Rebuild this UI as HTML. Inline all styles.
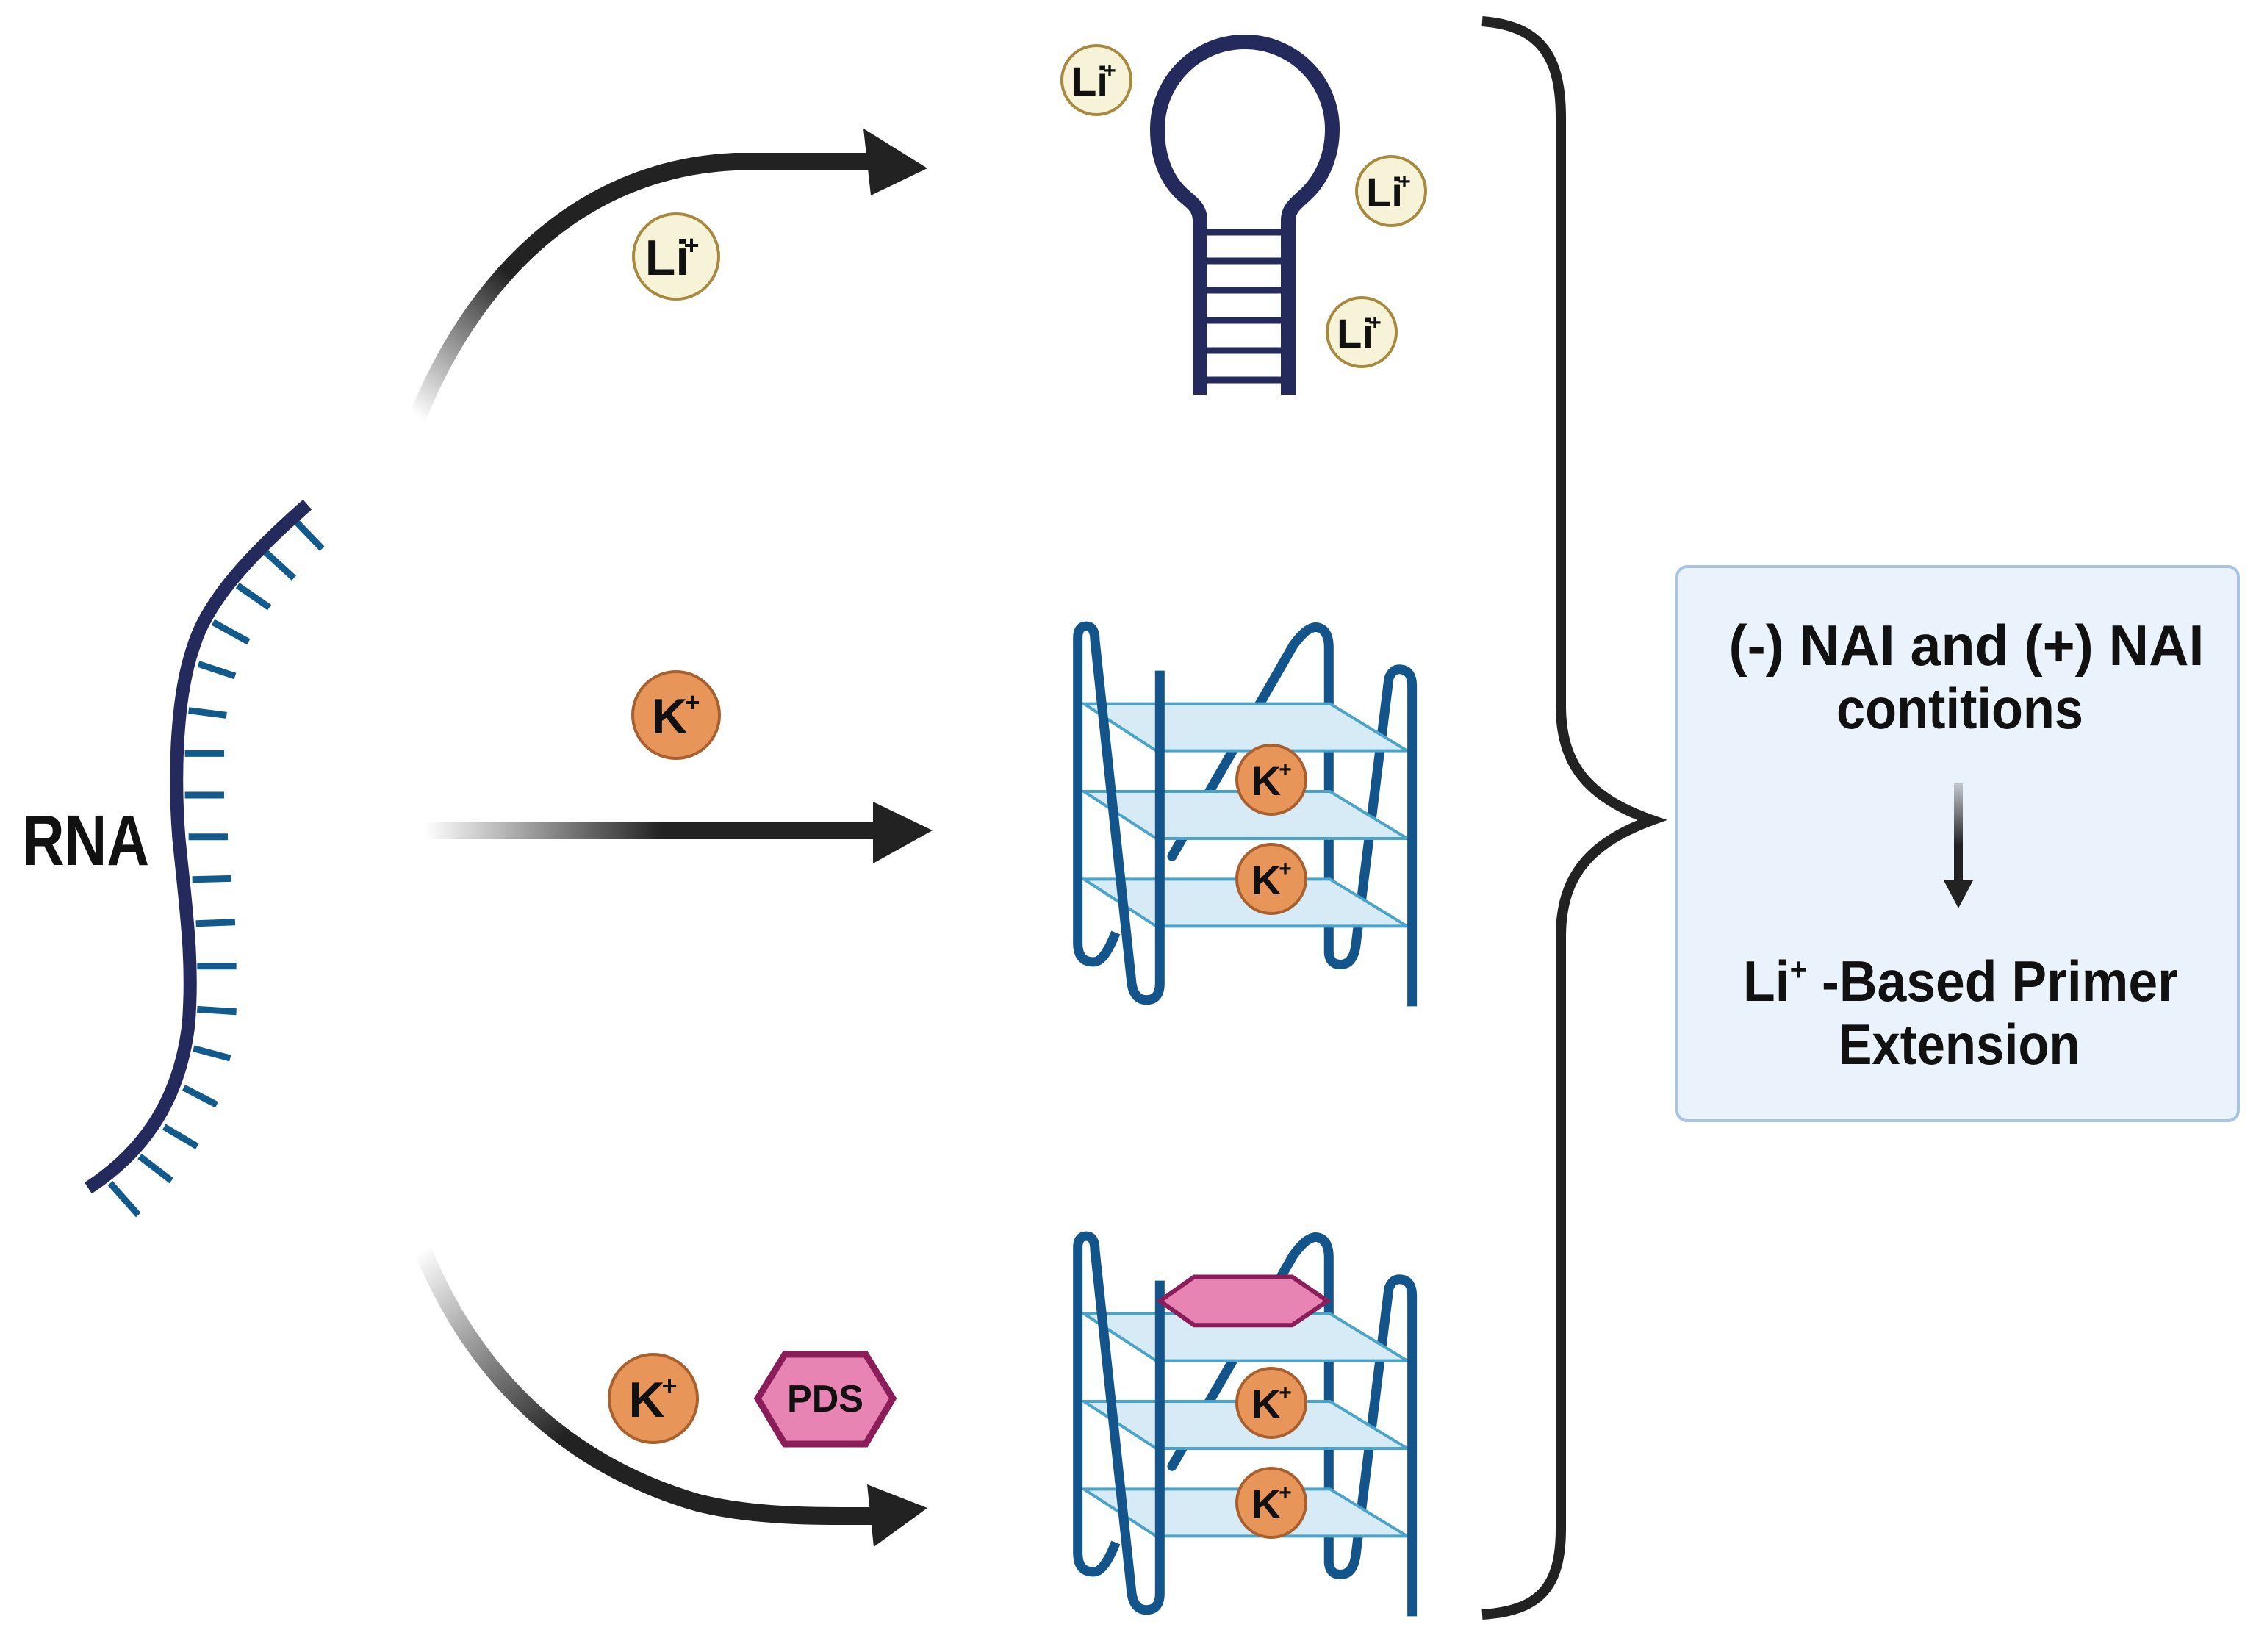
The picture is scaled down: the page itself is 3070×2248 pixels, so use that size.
<!DOCTYPE html>
<html><head><meta charset="utf-8"><style>
html,body{margin:0;padding:0;background:#fff;}
svg{display:block;}
text{font-family:"Liberation Sans",sans-serif;font-weight:bold;}
</style></head><body>
<svg width="3070" height="2248" viewBox="0 0 3070 2248" xmlns="http://www.w3.org/2000/svg">
<defs>
<linearGradient id="ga1" gradientUnits="userSpaceOnUse" x1="568" y1="568" x2="800" y2="260">
<stop offset="0" stop-color="#222" stop-opacity="0"/><stop offset="0.6" stop-color="#222" stop-opacity="1"/></linearGradient>
<linearGradient id="ga2" gradientUnits="userSpaceOnUse" x1="578" y1="0" x2="900" y2="0">
<stop offset="0" stop-color="#222" stop-opacity="0"/><stop offset="1" stop-color="#222" stop-opacity="1"/></linearGradient>
<linearGradient id="ga3" gradientUnits="userSpaceOnUse" x1="575" y1="1700" x2="760" y2="1960">
<stop offset="0" stop-color="#222" stop-opacity="0"/><stop offset="1" stop-color="#222" stop-opacity="1"/></linearGradient>
<linearGradient id="ga4" gradientUnits="userSpaceOnUse" x1="0" y1="1066" x2="0" y2="1150">
<stop offset="0" stop-color="#222" stop-opacity="0.2"/><stop offset="1" stop-color="#222" stop-opacity="1"/></linearGradient>
</defs>

<!-- RNA -->
<text x="30" y="1177" font-size="97" fill="#111" textLength="173" lengthAdjust="spacingAndGlyphs">RNA</text>
<g transform="translate(0,640) scale(0.3333,0.6667)" stroke="#135a8c" stroke-linecap="butt" fill="none">
<g>
<line x1="1200" y1="100" x2="1315" y2="160" stroke-width="9" vector-effect="non-scaling-stroke"/>
<line x1="1080" y1="165" x2="1200" y2="220" stroke-width="9" vector-effect="non-scaling-stroke"/>
<line x1="970" y1="235" x2="1100" y2="280" stroke-width="9" vector-effect="non-scaling-stroke"/>
<line x1="870" y1="310" x2="1015" y2="350" stroke-width="9" vector-effect="non-scaling-stroke"/>
<line x1="810" y1="395" x2="960" y2="420" stroke-width="9" vector-effect="non-scaling-stroke"/>
<line x1="770" y1="490" x2="925" y2="500" stroke-width="9" vector-effect="non-scaling-stroke"/>
<line x1="755" y1="578" x2="915" y2="578" stroke-width="9" vector-effect="non-scaling-stroke"/>
<line x1="755" y1="663" x2="915" y2="663" stroke-width="9" vector-effect="non-scaling-stroke"/>
<line x1="770" y1="748" x2="930" y2="748" stroke-width="9" vector-effect="non-scaling-stroke"/>
<line x1="785" y1="835" x2="945" y2="833" stroke-width="9" vector-effect="non-scaling-stroke"/>
<line x1="800" y1="925" x2="960" y2="922" stroke-width="9" vector-effect="non-scaling-stroke"/>
<line x1="805" y1="1012" x2="965" y2="1012" stroke-width="9" vector-effect="non-scaling-stroke"/>
<line x1="805" y1="1100" x2="965" y2="1105" stroke-width="9" vector-effect="non-scaling-stroke"/>
<line x1="790" y1="1180" x2="940" y2="1200" stroke-width="9" vector-effect="non-scaling-stroke"/>
<line x1="750" y1="1260" x2="885" y2="1295" stroke-width="9" vector-effect="non-scaling-stroke"/>
<line x1="670" y1="1340" x2="805" y2="1380" stroke-width="9" vector-effect="non-scaling-stroke"/>
<line x1="570" y1="1400" x2="700" y2="1450" stroke-width="9" vector-effect="non-scaling-stroke"/>
<line x1="450" y1="1455" x2="565" y2="1520" stroke-width="9" vector-effect="non-scaling-stroke"/>
</g>
<path d="M1255,70 C1050,160 850,260 790,360 C720,460 710,620 730,750 C760,900 790,1000 770,1130 C730,1300 560,1400 360,1465" stroke="#252a5c" stroke-width="18" vector-effect="non-scaling-stroke"/>
</g>

<!-- Arrow 1 -->
<path d="M568,568 C640,390 780,230 1000,220 L1185,220" fill="none" stroke="url(#ga1)" stroke-width="24"/>
<polygon points="1175,175 1262,229 1185,266" fill="#222"/>
<circle cx="920" cy="349" r="58" fill="#f7f3d9" stroke="#a88a3e" stroke-width="4"/>
<text x="908" y="374" font-size="68" fill="#111" text-anchor="middle">Li</text><text x="941" y="346" font-size="36" fill="#111" text-anchor="middle">+</text>

<!-- Arrow 2 -->
<rect x="578" y="1119" width="620" height="23" fill="url(#ga2)"/>
<polygon points="1188,1091 1269,1130 1188,1175" fill="#222"/>
<circle cx="920" cy="973" r="59" fill="#e8955a" stroke="#a8602e" stroke-width="4"/>
<text x="911" y="998" font-size="68" fill="#111" text-anchor="middle">K</text><text x="942" y="968" font-size="36" fill="#111" text-anchor="middle">+</text>

<!-- Arrow 3 -->
<path d="M575,1700 C640,1860 760,1990 950,2045 C1030,2065 1120,2063 1190,2063" fill="none" stroke="url(#ga3)" stroke-width="24"/>
<polygon points="1180,2020 1262,2052 1189,2105" fill="#222"/>
<circle cx="889" cy="1903" r="60" fill="#e8955a" stroke="#a8602e" stroke-width="4"/>
<text x="880" y="1928" font-size="68" fill="#111" text-anchor="middle">K</text><text x="911" y="1898" font-size="36" fill="#111" text-anchor="middle">+</text>
<polygon points="1031,1903 1068,1843 1178,1843 1215,1903 1178,1965 1068,1965" fill="#e884b4" stroke="#8a1d5a" stroke-width="9"/>
<text x="1123" y="1921" font-size="52" fill="#111" text-anchor="middle" textLength="104" lengthAdjust="spacingAndGlyphs">PDS</text>

<!-- Hairpin -->
<g fill="none" stroke="#252a5c" stroke-width="20">
<path d="M1633,537 L1633,300 C1633,285 1625,278 1613,268 C1585,245 1575,210 1575,176 C1575,110 1628,57 1694,57 C1760,57 1813,110 1813,176 C1813,210 1800,245 1773,268 C1762,278 1753,285 1753,300 L1753,537"/>
</g>
<g stroke="#252a5c" stroke-width="9">
<line x1="1640" y1="316" x2="1746" y2="316"/><line x1="1640" y1="355" x2="1746" y2="355"/>
<line x1="1640" y1="395" x2="1746" y2="395"/><line x1="1640" y1="436" x2="1746" y2="436"/>
<line x1="1640" y1="477" x2="1746" y2="477"/><line x1="1640" y1="517" x2="1746" y2="517"/>
</g>
<g>
<circle cx="1492" cy="109" r="47" fill="#f7f3d9" stroke="#a88a3e" stroke-width="4"/>
<text x="1483" y="130" font-size="56" fill="#111" text-anchor="middle">Li</text><text x="1510" y="106" font-size="30" fill="#111" text-anchor="middle">+</text>
<circle cx="1893" cy="260" r="47" fill="#f7f3d9" stroke="#a88a3e" stroke-width="4"/>
<text x="1884" y="281" font-size="56" fill="#111" text-anchor="middle">Li</text><text x="1911" y="257" font-size="30" fill="#111" text-anchor="middle">+</text>
<circle cx="1853" cy="452" r="47" fill="#f7f3d9" stroke="#a88a3e" stroke-width="4"/>
<text x="1844" y="473" font-size="56" fill="#111" text-anchor="middle">Li</text><text x="1871" y="449" font-size="30" fill="#111" text-anchor="middle">+</text>
</g>

<!-- G4 #1 -->
<g transform="translate(1440,840) scale(0.3333,0.346)">
<g fill="none" stroke="#13558b" stroke-linecap="round">
<path d="M465,940 L960,110 Q1020,30 1060,40 Q1105,50 1105,120 L1105,1320 Q1110,1370 1160,1365 Q1205,1360 1215,1290 L1350,240 Q1365,200 1400,205 Q1445,210 1445,270" stroke-width="13" vector-effect="non-scaling-stroke"/>
</g>
<g fill="#d6ebf5" stroke="#4aa3c9">
<polygon points="105,340 1110,340 1425,525 400,525" stroke-width="4" vector-effect="non-scaling-stroke"/>
<polygon points="105,685 1110,685 1425,870 400,870" stroke-width="4" vector-effect="non-scaling-stroke"/>
<polygon points="105,1030 1110,1030 1425,1215 400,1215" stroke-width="4" vector-effect="non-scaling-stroke"/>
</g>
<g fill="none" stroke="#13558b">
<path d="M235,1240 Q190,1350 150,1355 Q80,1360 80,1280 L80,80 Q80,35 115,35 Q150,35 150,90 L300,1440 Q310,1505 360,1505 Q415,1505 415,1440 L415,210" stroke-width="13" vector-effect="non-scaling-stroke"/>
<path d="M1445,270 L1445,1530" stroke-width="13" vector-effect="non-scaling-stroke"/>
</g>
</g>
<circle cx="1730" cy="1061" r="47" fill="#e8955a" stroke="#a8602e" stroke-width="4"/>
<text x="1723" y="1082" font-size="56" fill="#111" text-anchor="middle">K</text><text x="1749" y="1057" font-size="30" fill="#111" text-anchor="middle">+</text>
<circle cx="1730" cy="1196" r="47" fill="#e8955a" stroke="#a8602e" stroke-width="4"/>
<text x="1723" y="1217" font-size="56" fill="#111" text-anchor="middle">K</text><text x="1749" y="1192" font-size="30" fill="#111" text-anchor="middle">+</text>

<!-- G4 #2 -->
<g transform="translate(1440,1670) scale(0.3333,0.346)">
<g fill="none" stroke="#13558b" stroke-linecap="round">
<path d="M465,940 L960,110 Q1020,30 1060,40 Q1105,50 1105,120 L1105,1320 Q1110,1370 1160,1365 Q1205,1360 1215,1290 L1350,240 Q1365,200 1400,205 Q1445,210 1445,270" stroke-width="13" vector-effect="non-scaling-stroke"/>
</g>
<g fill="#d6ebf5" stroke="#4aa3c9">
<polygon points="105,340 1110,340 1425,525 400,525" stroke-width="4" vector-effect="non-scaling-stroke"/>
<polygon points="105,685 1110,685 1425,870 400,870" stroke-width="4" vector-effect="non-scaling-stroke"/>
<polygon points="105,1030 1110,1030 1425,1215 400,1215" stroke-width="4" vector-effect="non-scaling-stroke"/>
</g>
<g fill="none" stroke="#13558b">
<path d="M235,1240 Q190,1350 150,1355 Q80,1360 80,1280 L80,80 Q80,35 115,35 Q150,35 150,90 L300,1440 Q310,1505 360,1505 Q415,1505 415,1440 L415,210" stroke-width="13" vector-effect="non-scaling-stroke"/>
<path d="M1445,270 L1445,1530" stroke-width="13" vector-effect="non-scaling-stroke"/>
</g>
<polygon points="415,290 555,195 955,195 1100,290 955,385 555,385" fill="#e884b4" stroke="#8a1d5a" stroke-width="6" vector-effect="non-scaling-stroke"/>
</g>
<circle cx="1730" cy="1909" r="47" fill="#e8955a" stroke="#a8602e" stroke-width="4"/>
<text x="1723" y="1930" font-size="56" fill="#111" text-anchor="middle">K</text><text x="1749" y="1905" font-size="30" fill="#111" text-anchor="middle">+</text>
<circle cx="1730" cy="2045" r="47" fill="#e8955a" stroke="#a8602e" stroke-width="4"/>
<text x="1723" y="2066" font-size="56" fill="#111" text-anchor="middle">K</text><text x="1749" y="2041" font-size="30" fill="#111" text-anchor="middle">+</text>

<!-- Brace -->
<path d="M2017,29 C2095,35 2124,75 2124,160 L2124,960 C2124,1040 2160,1085 2248,1116 C2160,1148 2124,1195 2124,1275 L2124,2080 C2124,2160 2095,2192 2017,2197" fill="none" stroke="#222" stroke-width="14"/>

<!-- Box -->
<rect x="2282" y="771" width="764" height="754" rx="14" fill="#eaf2fb" stroke="#a9c4e2" stroke-width="4"/>
<text x="2676" y="905" font-size="78" fill="#111" text-anchor="middle" textLength="647" lengthAdjust="spacingAndGlyphs">(-) NAI and  (+) NAI</text>
<text x="2667" y="991" font-size="78" fill="#111" text-anchor="middle" textLength="336" lengthAdjust="spacingAndGlyphs">contitions</text>
<rect x="2659" y="1066" width="12" height="140" fill="url(#ga4)"/>
<polygon points="2645,1198 2685,1198 2665,1236" fill="#222"/>
<text x="2668" y="1362" font-size="78" fill="#111" text-anchor="middle" textLength="592" lengthAdjust="spacingAndGlyphs">Li<tspan font-size="44" dy="-28">+</tspan><tspan dy="28"> -Based Primer</tspan></text>
<text x="2666" y="1448" font-size="78" fill="#111" text-anchor="middle" textLength="329" lengthAdjust="spacingAndGlyphs">Extension</text>
</svg>
</body></html>
